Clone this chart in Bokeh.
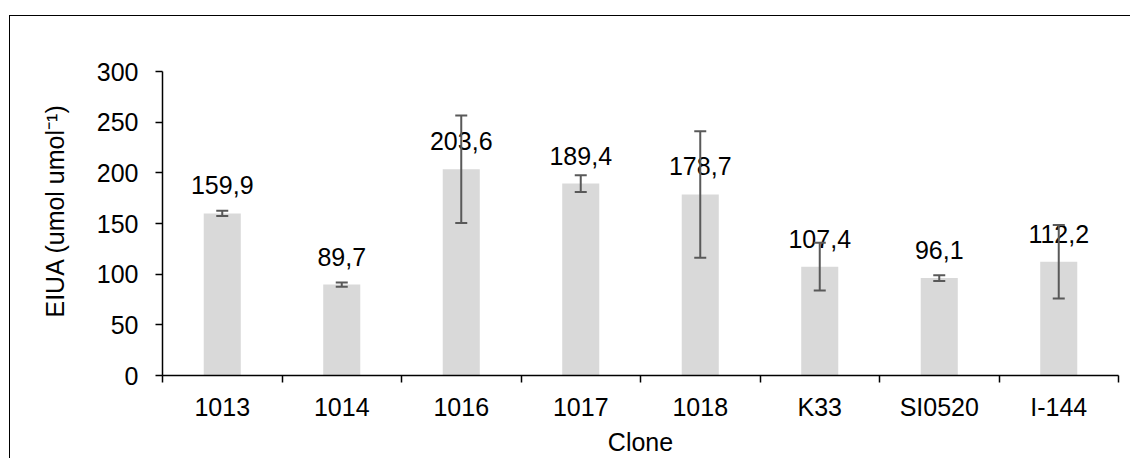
from bokeh.plotting import figure
from bokeh.models import (ColumnDataSource, Range1d, FixedTicker, Whisker, TeeHead, Title,
                          GlobalInlineStyleSheet)
from bokeh.core.properties import value
from bokeh.embed import file_html
from bokeh.resources import INLINE

clones = ["1013", "1014", "1016", "1017", "1018", "K33", "SI0520", "I-144"]
eiua = [159.9, 89.7, 203.6, 189.4, 178.7, 107.4, 96.1, 112.2]
errors = [2.6, 2.0, 53.0, 8.3, 62.4, 23.6, 2.8, 36.3]
value_labels = ["159,9", "89,7", "203,6", "189,4", "178,7", "107,4", "96,1", "112,2"]
y_ticks = [0, 50, 100, 150, 200, 250, 300]

xs = list(range(len(clones)))
src = ColumnDataSource(dict(
    x=xs, y=eiua, lab=value_labels,
    upper=[v + e for v, e in zip(eiua, errors)],
    lower=[v - e for v, e in zip(eiua, errors)],
))

FONT = "Liberation Sans"
FS = "25px"

global_css = (
    "html, body { overflow: hidden; } "
    "body div { overflow: hidden; scrollbar-width: none; } "
    "::-webkit-scrollbar { display: none; width: 0; height: 0; }"
)

p = figure(width=1120, height=442, output_backend="svg", toolbar_location=None,
           x_range=Range1d(-0.5, len(clones) - 0.5), y_range=Range1d(0, 300),
           styles={"margin-left": "9px", "margin-top": "15px", "vertical-align": "top",
                   "box-sizing": "content-box", "overflow": "hidden",
                   "border-left": "1.5px solid #000000", "border-top": "1.5px solid #000000"},
           stylesheets=[GlobalInlineStyleSheet(css=global_css)])
p.min_border_left = 152
p.min_border_top = 55
p.min_border_right = 13
p.min_border_bottom = 84
p.outline_line_color = None
p.xgrid.visible = False
p.ygrid.visible = False
p.background_fill_color = "white"
p.border_fill_color = "white"

p.vbar(x="x", top="y", width=0.31, bottom=0, source=src,
       fill_color="#d9d9d9", line_color=None)

p.text(x="x", y="y", text="lab", source=src, y_offset=-28,
       text_align="center", text_baseline="alphabetic",
       text_font=value(FONT), text_font_size=FS, text_color="#000000")

w = Whisker(base="x", upper="upper", lower="lower", source=src,
            line_color="#595959", line_width=2,
            upper_head=TeeHead(size=12, line_color="#595959", line_width=2),
            lower_head=TeeHead(size=12, line_color="#595959", line_width=2),
            level="annotation")
p.add_layout(w)

# x axis: labels at category centres, tick marks between categories
xa = p.xaxis[0]
xa.ticker = FixedTicker(ticks=xs, minor_ticks=[i - 0.5 for i in range(len(clones) + 1)])
xa.major_label_overrides = {i: c for i, c in zip(xs, clones)}
xa.major_tick_out = 0
xa.major_tick_in = 0
xa.minor_tick_out = 7
xa.minor_tick_in = 0
xa.minor_tick_line_color = "black"
xa.minor_tick_line_width = 1.5
xa.axis_line_color = "black"
xa.axis_line_width = 1.5
xa.major_label_standoff = 10
xa.major_label_text_font = FONT
xa.major_label_text_font_size = FS
xa.major_label_text_color = "black"
xa.axis_label = "Clone"
xa.axis_label_text_font = FONT
xa.axis_label_text_font_size = FS
xa.axis_label_text_font_style = "normal"
xa.axis_label_text_color = "black"
xa.axis_label_standoff = 4

ya = p.yaxis[0]
ya.ticker = FixedTicker(ticks=y_ticks, minor_ticks=[])
ya.major_tick_out = 7
ya.major_tick_in = 0
ya.major_tick_line_color = "black"
ya.major_tick_line_width = 1.5
ya.axis_line_color = "black"
ya.axis_line_width = 1.5
ya.major_label_standoff = 17
ya.major_label_text_font = FONT
ya.major_label_text_font_size = FS
ya.major_label_text_color = "black"

ytitle = Title(text="EIUA (umol umol\u207b\u00b9)", align="left", offset=58,
               vertical_align="top", standoff=45,
               text_font=FONT, text_font_size=FS, text_font_style="normal",
               text_color="black")
p.add_layout(ytitle, "left")

open("out.html", "w").write(file_html(p, INLINE))
